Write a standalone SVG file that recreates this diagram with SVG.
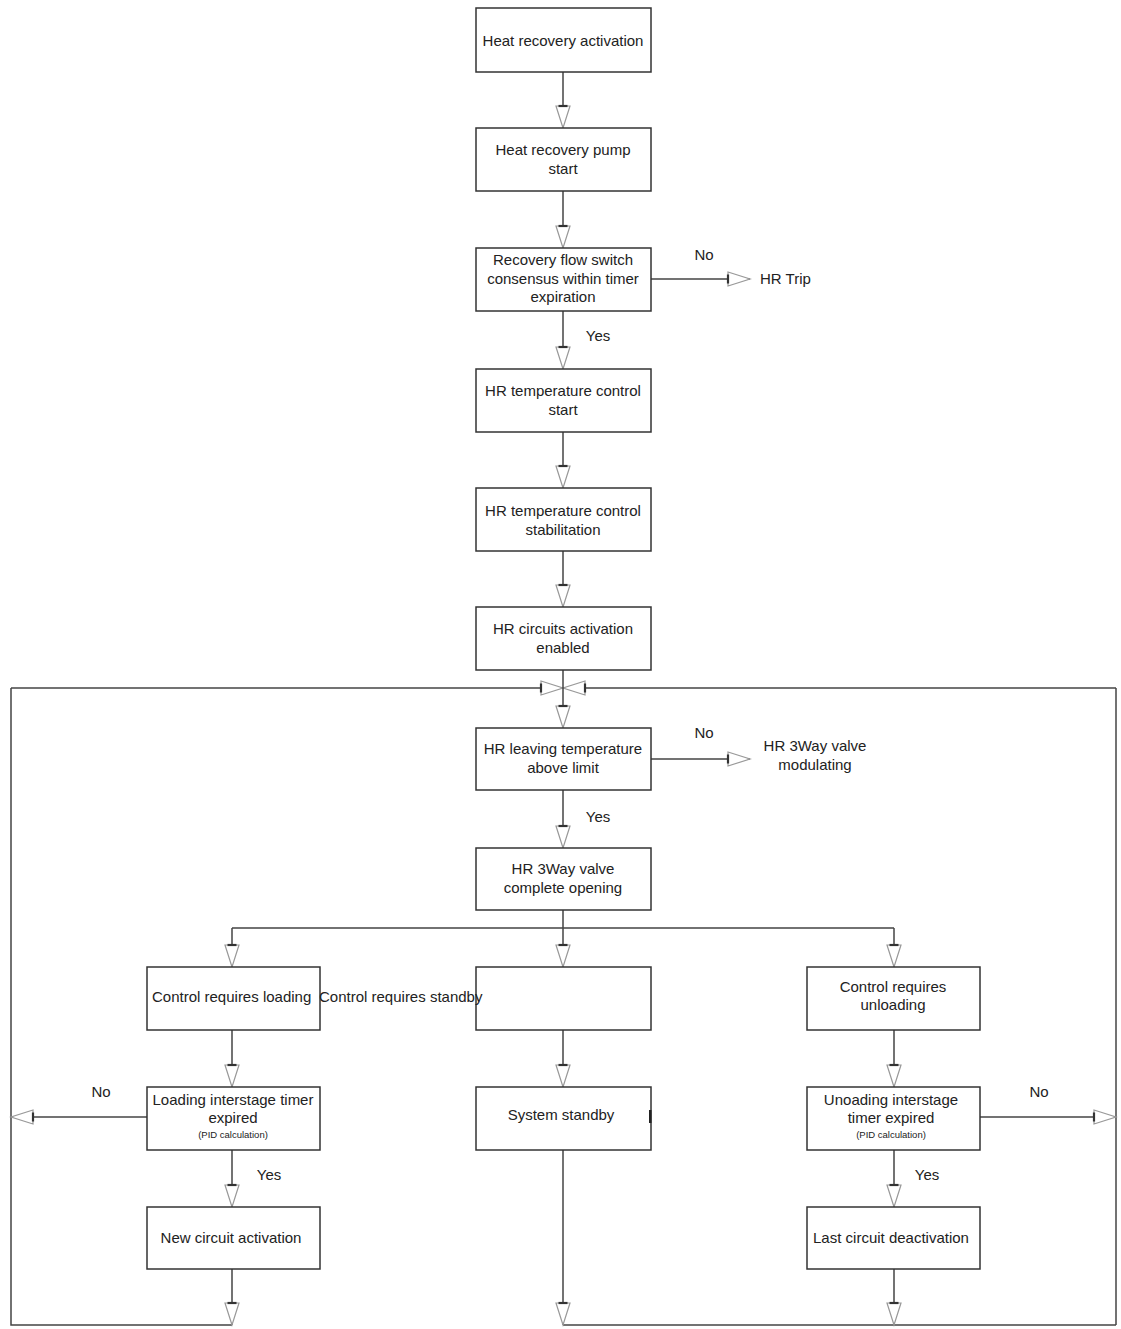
<svg xmlns="http://www.w3.org/2000/svg" width="1121" height="1329" viewBox="0 0 1121 1329">
<style>
.box{fill:#fff;stroke:#333;stroke-width:1.5}
.t{font-family:"Liberation Sans",Arial,sans-serif;font-size:15px;fill:#222;text-anchor:middle}
.s{font-family:"Liberation Sans",Arial,sans-serif;font-size:9.5px;fill:#222;text-anchor:middle}
.c{fill:none;stroke:#444;stroke-width:1.5}
</style>
<defs>
<marker id="ar" markerUnits="userSpaceOnUse" markerWidth="30" markerHeight="20" viewBox="-2 -10 28 20" refX="22" refY="0" orient="auto">
<path d="M0,-7 L22,0 L0,7 Z" fill="#fff" stroke="#999" stroke-width="1.2"/>
<path d="M0,-4.5 L0,4.5" stroke="#333" stroke-width="2.2"/>
</marker>
</defs>
<rect width="1121" height="1329" fill="#fff"/>
<g id="connectors">
<path class="c" d="M11,688 L11,1325 L232,1325"/>
<path class="c" d="M1116,1325 L1116,688"/>
<path class="c" d="M563,1325 L1116,1325"/>
<path class="c" d="M11,688 L563,688" marker-end="url(#ar)"/>
<path class="c" d="M1116,688 L563,688" marker-end="url(#ar)"/>
<path class="c" d="M563,72 L563,128" marker-end="url(#ar)"/>
<path class="c" d="M563,191 L563,248" marker-end="url(#ar)"/>
<path class="c" d="M563,311 L563,369" marker-end="url(#ar)"/>
<path class="c" d="M651,279 L750,279" marker-end="url(#ar)"/>
<path class="c" d="M563,432 L563,488" marker-end="url(#ar)"/>
<path class="c" d="M563,551 L563,607" marker-end="url(#ar)"/>
<path class="c" d="M563,670 L563,728" marker-end="url(#ar)"/>
<path class="c" d="M651,759 L750,759" marker-end="url(#ar)"/>
<path class="c" d="M563,790 L563,848" marker-end="url(#ar)"/>
<path class="c" d="M563,910 L563,928 M232,928 L894,928"/>
<path class="c" d="M232,928 L232,967" marker-end="url(#ar)"/>
<path class="c" d="M563,928 L563,967" marker-end="url(#ar)"/>
<path class="c" d="M894,928 L894,967" marker-end="url(#ar)"/>
<path class="c" d="M232,1030 L232,1087" marker-end="url(#ar)"/>
<path class="c" d="M563,1030 L563,1087" marker-end="url(#ar)"/>
<path class="c" d="M894,1030 L894,1087" marker-end="url(#ar)"/>
<path class="c" d="M147,1117 L11,1117" marker-end="url(#ar)"/>
<path class="c" d="M980,1117 L1116,1117" marker-end="url(#ar)"/>
<path class="c" d="M232,1150 L232,1207" marker-end="url(#ar)"/>
<path class="c" d="M894,1150 L894,1207" marker-end="url(#ar)"/>
<path class="c" d="M232,1269 L232,1325" marker-end="url(#ar)"/>
<path class="c" d="M563,1150 L563,1325" marker-end="url(#ar)"/>
<path class="c" d="M894,1269 L894,1325" marker-end="url(#ar)"/>
</g>
<g id="labels">
<text class="t" x="704" y="260">No</text>
<text class="t" x="598" y="341">Yes</text>
<text class="t" x="704" y="738">No</text>
<text class="t" x="598" y="822">Yes</text>
<text class="t" x="101" y="1097">No</text>
<text class="t" x="269" y="1180">Yes</text>
<text class="t" x="1039" y="1097">No</text>
<text class="t" x="927" y="1180">Yes</text>
</g>
<g id="hr-trip"><text class="t" x="760" y="284" style="text-anchor:start">HR Trip</text></g>
<g id="hr-3way-modulating"><text class="t" x="815" y="751">HR 3Way valve</text><text class="t" x="815" y="770">modulating</text></g>
<g id="n1"><rect class="box" x="476" y="8" width="175" height="64"/><text class="t" x="563" y="46">Heat recovery activation</text></g>
<g id="n2"><rect class="box" x="476" y="128" width="175" height="63"/><text class="t" x="563" y="155">Heat recovery pump</text><text class="t" x="563" y="174">start</text></g>
<g id="n3"><rect class="box" x="476" y="248" width="175" height="63"/><text class="t" x="563" y="265">Recovery flow switch</text><text class="t" x="563" y="284">consensus within timer</text><text class="t" x="563" y="302">expiration</text></g>
<g id="n4"><rect class="box" x="476" y="369" width="175" height="63"/><text class="t" x="563" y="396">HR temperature control</text><text class="t" x="563" y="415">start</text></g>
<g id="n5"><rect class="box" x="476" y="488" width="175" height="63"/><text class="t" x="563" y="516">HR temperature control</text><text class="t" x="563" y="535">stabilitation</text></g>
<g id="n6"><rect class="box" x="476" y="607" width="175" height="63"/><text class="t" x="563" y="634">HR circuits activation</text><text class="t" x="563" y="653">enabled</text></g>
<g id="n7"><rect class="box" x="476" y="728" width="175" height="62"/><text class="t" x="563" y="754">HR leaving temperature</text><text class="t" x="563" y="773">above limit</text></g>
<g id="n8"><rect class="box" x="476" y="848" width="175" height="62"/><text class="t" x="563" y="874">HR 3Way valve</text><text class="t" x="563" y="893">complete opening</text></g>
<g id="n9"><rect class="box" x="147" y="967" width="173" height="63"/><text class="t" x="152" y="1002" style="text-anchor:start">Control requires loading</text></g>
<g id="n10"><rect class="box" x="476" y="967" width="175" height="63"/><text class="t" x="319" y="1002" style="text-anchor:start">Control requires standby</text></g>
<g id="n11"><rect class="box" x="807" y="967" width="173" height="63"/><text class="t" x="893" y="992">Control requires</text><text class="t" x="893" y="1010">unloading</text></g>
<g id="n12"><rect class="box" x="147" y="1087" width="173" height="63"/><text class="t" x="233" y="1105">Loading interstage timer</text><text class="t" x="233" y="1123">expired</text><text class="s" x="233" y="1138">(PID calculation)</text></g>
<g id="n13"><rect class="box" x="476" y="1087" width="175" height="63"/><text class="t" x="561" y="1120">System standby</text><rect x="649" y="1110" width="2.5" height="13" fill="#222"/></g>
<g id="n14"><rect class="box" x="807" y="1087" width="173" height="63"/><text class="t" x="891" y="1105">Unoading interstage</text><text class="t" x="891" y="1123">timer expired</text><text class="s" x="891" y="1138">(PID calculation)</text></g>
<g id="n15"><rect class="box" x="147" y="1207" width="173" height="62"/><text class="t" x="231" y="1243">New circuit activation</text></g>
<g id="n16"><rect class="box" x="807" y="1207" width="173" height="62"/><text class="t" x="891" y="1243">Last circuit deactivation</text></g>
</svg>
